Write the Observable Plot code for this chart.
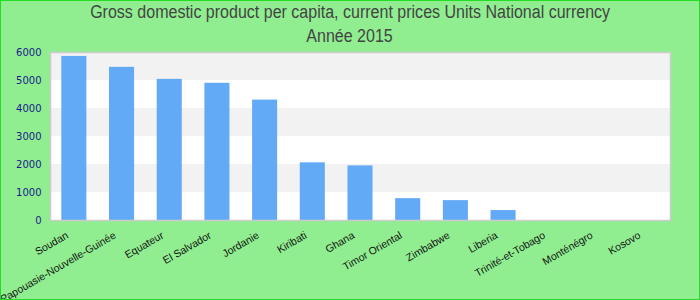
<!DOCTYPE html>
<html>
<head>
<meta charset="utf-8">
<script src="https://cdn.jsdelivr.net/npm/d3@7"></script>
<script src="https://cdn.jsdelivr.net/npm/@observablehq/plot@0.6"></script>
<style>
  body { margin: 0; }
  #wrap { position: relative; width: 700px; height: 300px; box-sizing: border-box; border: 1px solid #22dd22; background: #90ee90; overflow: hidden; }
  .t { position: absolute; left: 0; width: 698px; font-family: "Liberation Sans", Arial, sans-serif; font-size: 18px; color: #444; text-align: center; line-height: 24px; height: 24px; z-index: 2; }
  .t span { display: inline-block; transform: scaleX(0.89); transform-origin: center; white-space: nowrap; }
  #chart { position: absolute; left: 0; top: 0; }
  svg { display: block; }
</style>
</head>
<body>
<div id="wrap">
  <div class="t" style="top:-1px"><span>Gross domestic product per capita, current prices Units National currency</span></div>
  <div class="t" style="top:23px"><span>Année 2015</span></div>
  <div id="chart"></div>
</div>
<script>
const countries = ["Soudan", "Papouasie-Nouvelle-Guinée", "Equateur", "El Salvador", "Jordanie", "Kiribati", "Ghana", "Timor Oriental", "Zimbabwe", "Liberia", "Trinité-et-Tobago", "Monténégro", "Kosovo"];
const values = [5860, 5470, 5040, 4900, 4300, 2060, 1950, 780, 710, 355, 0, 0, 0];
const yTicks = [0, 1000, 2000, 3000, 4000, 5000, 6000];
const bandStarts = [1000, 3000, 5000];

const data = countries.map((c, i) => ({country: c, value: values[i]}));

const chart = Plot.plot({
  width: 698,
  height: 298,
  marginLeft: 49,
  marginRight: 29,
  marginTop: 51,
  marginBottom: 79,
  style: {background: "transparent", overflow: "visible"},
  x: {domain: countries, paddingInner: 0.475, paddingOuter: 0.2375, round: false, label: null},
  y: {domain: [0, 6000], ticks: yTicks, label: null},
  marks: [
    Plot.frame({fill: "white", stroke: null}),
    Plot.rect(bandStarts, {y1: d => d, y2: d => d + 1000, fill: "#f2f2f2"}),
    Plot.barY(data, {x: "country", y: "value", fill: "#62aaf5"}),
    Plot.frame({stroke: "#cccccc", strokeWidth: 1.5}),
    Plot.axisY({ticks: yTicks, tickSize: 0, tickPadding: 9, fontSize: 10, fill: "#1a1a8c", fontFamily: "DejaVu Sans", label: null, tickFormat: d => String(d)}),
    Plot.axisX({tickSize: 0, tickRotate: -30, tickPadding: 14, dx: -7, fontSize: 10.5, fill: "#111", fontFamily: "Liberation Sans", label: null})
  ]
});
document.getElementById("chart").appendChild(chart);
</script>
</body>
</html>
